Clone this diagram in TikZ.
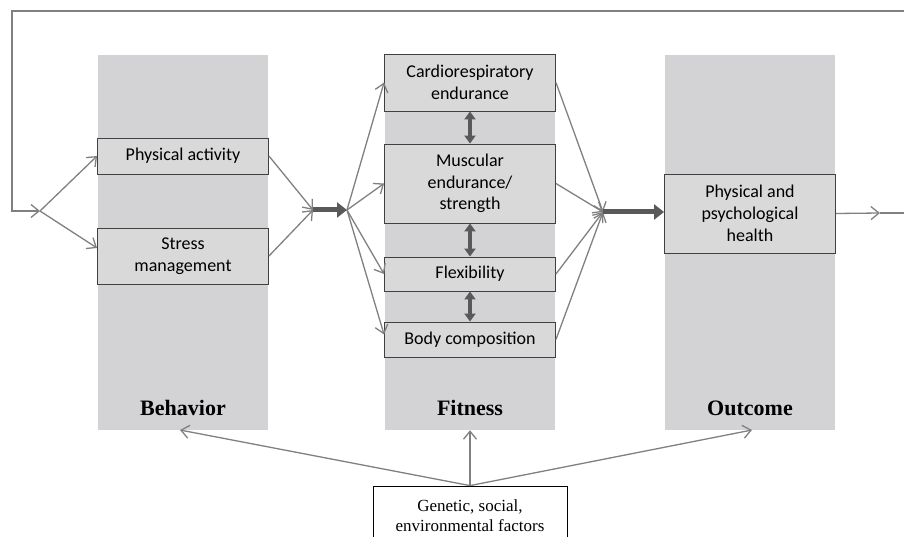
\documentclass[tikz,border=0pt]{standalone}
\usepackage{fontspec}
\setmainfont{Liberation Serif}
\newfontfamily\calfont{Carlito}
\usetikzlibrary{arrows.meta}
\definecolor{colgray}{HTML}{D3D3D5}
\definecolor{boxgray}{HTML}{D9D9D9}
\definecolor{boxline}{HTML}{404040}
\definecolor{arrowgray}{HTML}{808080}
\definecolor{thickgray}{HTML}{595959}

\begin{document}
\begin{tikzpicture}
    [x=1pt,y=-1pt,
      column/.style={fill=colgray,minimum width=170pt,minimum height=375pt,inner sep=0pt},
      heading/.style={font=\bfseries\fontsize{22}{26}\selectfont},
      factor/.style={draw=boxline,fill=boxgray,line width=0.9pt,inner sep=0pt,minimum width=171pt,align=center,font=\calfont\fontsize{18}{21.7}\selectfont},
      flow/.style={draw=arrowgray,line width=1.3pt,-{Straight Barb[length=8pt,width=13pt]}},
      push/.style={draw=thickgray,line width=5pt,-{Triangle[length=10pt,width=15pt]}},
      link/.style={draw=thickgray,line width=4pt,{Triangle[length=8pt,width=11pt]}-{Triangle[length=8pt,width=11pt]}}
    ]

    \clip (0,0) rectangle (904,537);

    \node [column] (bcol) at (183,242.5) {};
    \node [column] (fcol) at (470,242.5) {};
    \node [column] (ocol) at (750,242.5) {};
    \node [heading] (blabel) at (183,408) {Behavior};
    \node [heading] (flabel) at (470,408) {Fitness};
    \node [heading] (olabel) at (750,408) {Outcome};

    \node [factor,minimum height=36pt] (activity) at (183,156) {Physical activity};
    \node [factor,minimum height=56pt] (stress) at (183,256) {Stress\\management};
    \node [factor,minimum height=57pt] (cardio) at (470,82.5) {Cardiorespiratory\\endurance};
    \node [factor,minimum height=79pt] (muscle) at (470,183.5) {Muscular\\endurance/\\strength};
    \node [factor,minimum height=34pt] (flex) at (470,274) {Flexibility};
    \node [factor,minimum height=35pt] (body) at (470,339.5) {Body composition};
    \node [factor,minimum height=79pt] (health) at (750,213.5) {Physical and\\psychological\\health};
    \node [draw=black,fill=white,line width=0.8pt,minimum width=194pt,minimum height=60pt,align=center,
          font=\fontsize{17}{20}\selectfont] (genes) at (470,516) {Genetic, social,\\environmental factors};

    \coordinate (fork) at (40,211);
    \coordinate (mergeA) at (313,210);
    \coordinate (forkB) at (347,210);
    \coordinate (mergeB) at (603,212);
    \coordinate (outtip) at (880,213);
    \coordinate (loopbr) at (910,213);
    \coordinate (looptl) at (12,11);
    \coordinate (btip) at (180,430);
    \coordinate (otip) at (752,430);

    \draw [flow] (outtip) -- (loopbr) |- (looptl) |- (fork);
    \draw [flow] (fork) -- (activity.west);
    \draw [flow] (fork) -- ([yshift=8pt]stress.west);
    \draw [flow] (activity.east) -- (mergeA);
    \draw [flow] (stress.east) -- (mergeA);
    \draw [push] (mergeA) -- (forkB);
    \draw [flow] (forkB) -- (cardio.west);
    \draw [flow] (forkB) -- (muscle.west);
    \draw [flow] (forkB) -- (flex.west);
    \draw [flow] (forkB) -- ([yshift=5pt]body.west);
    \draw [flow] (cardio.east) -- (mergeB);
    \draw [flow] (muscle.east) -- (mergeB);
    \draw [flow] (flex.east) -- (mergeB);
    \draw [flow] (body.east) -- (mergeB);
    \draw [push] (mergeB) -- (mergeB -| health.west);
    \draw [flow] (health.east) -- (outtip);
    \draw [link] (cardio) -- (muscle);
    \draw [link] (muscle) -- (flex);
    \draw [link] (flex) -- (body);
    \draw [flow] (genes.north) -- (btip);
    \draw [flow] (genes.north) -- (fcol.south);
    \draw [flow] (genes.north) -- (otip);
\end{tikzpicture}
\end{document}
